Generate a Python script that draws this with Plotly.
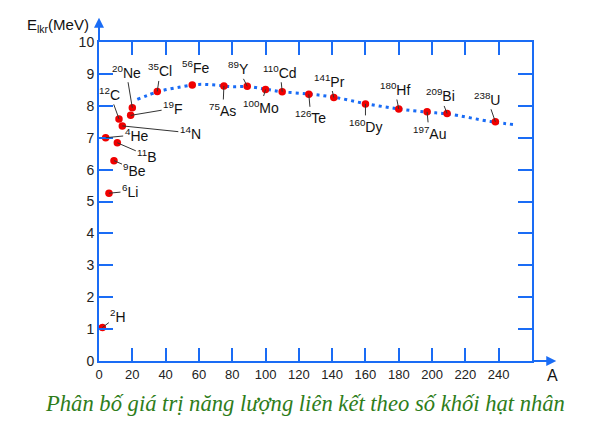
import plotly.graph_objects as go

# mass number A, binding energy per nucleon (MeV)
elements = ["H", "He", "Li", "Be", "B", "C", "N", "F", "Ne", "Cl", "Fe", "As", "Y",
            "Mo", "Cd", "Te", "Pr", "Dy", "Hf", "Au", "Bi", "U"]
mass_numbers = [2, 4, 6, 9, 11, 12, 14, 19, 20, 35, 56, 75, 89,
                100, 110, 126, 141, 160, 180, 197, 209, 238]
energies = [1.05, 7.0, 5.26, 6.28, 6.84, 7.59, 7.37, 7.70, 7.94, 8.45, 8.65, 8.62, 8.61,
            8.51, 8.44, 8.36, 8.26, 8.06, 7.90, 7.81, 7.76, 7.50]

# dotted trend curve
curve_a = [23, 36, 50, 60, 70, 80, 90, 100, 110, 126, 141, 160, 180, 197, 209, 236, 251]
curve_e = [8.2, 8.45, 8.6, 8.67, 8.65, 8.6, 8.6, 8.52, 8.44, 8.37, 8.27, 8.07, 7.9, 7.8, 7.75, 7.5, 7.4]

x_ticks = list(range(0, 241, 20))
y_ticks = list(range(0, 11))

# label offsets (pixels) from each dot to its text
label_dx = [16, 31, 21, 21, 30, -9, 68, 42, -6, 3, 3, -1, -9, -5, -2, 2, -4, 0, -4, 2, -7, -8]
label_dy = [-12, -3, -2, 9, 13, -25, 7, -7, -36, -21, -18, 24, -18, 17, -20, 23, -17, 22, -20, 21, -18, -23]

BLUE = "#1a6cf5"
RED = "#f00000"
FONT = "Liberation Sans, Arial, sans-serif"

fig = go.Figure()

fig.add_trace(
    go.Scatter(
        x=curve_a,
        y=curve_e,
        mode="lines",
        line={"color": BLUE, "width": 3, "dash": "3px,4px", "shape": "spline"},
        hoverinfo="skip",
    )
)
fig.add_trace(
    go.Scatter(
        x=mass_numbers,
        y=energies,
        mode="markers",
        marker={"color": RED, "size": 7.5},
        text=elements,
    )
)

for el, a, e, dx, dy in zip(elements, mass_numbers, energies, label_dx, label_dy):
    fig.add_annotation(
        x=a,
        y=e,
        text=f"<sup>{a}</sup>{el}",
        showarrow=el != "Fe",
        ax=dx,
        ay=dy,
        xshift=0 if el != "Fe" else dx,
        yshift=0 if el != "Fe" else -dy,
        arrowhead=0,
        arrowwidth=1,
        arrowcolor="#333333",
        font={"family": FONT, "size": 14, "color": "#111111"},
    )

# axis arrows (paper coords so they can sit outside the plot area)
fig.add_annotation(xref="paper", yref="paper", x=0, y=1.076, ax=0, ay=24, text="",
                   showarrow=True, arrowhead=2, arrowsize=1, arrowwidth=2, arrowcolor=BLUE)
fig.add_annotation(xref="paper", yref="paper", x=1.056, y=0, ax=-24, ay=0, text="",
                   showarrow=True, arrowhead=2, arrowsize=1, arrowwidth=2, arrowcolor=BLUE)

fig.add_annotation(xref="paper", yref="paper", x=-0.018, y=1.053, xanchor="right", yanchor="middle",
                   showarrow=False, text="E<sub>lkr</sub>(MeV)",
                   font={"family": FONT, "size": 15, "color": "#111111"})
fig.add_annotation(xref="paper", yref="paper", x=1.047, y=-0.046, xanchor="center", yanchor="middle",
                   showarrow=False, text="A",
                   font={"family": FONT, "size": 16, "color": "#111111"})
fig.add_annotation(xref="paper", yref="paper", x=0.476, y=-0.134, xanchor="center", yanchor="middle",
                   showarrow=False,
                   text="<i>Phân bố giá trị năng lượng liên kết theo số khối hạt nhân</i>",
                   font={"family": "Liberation Serif, Times New Roman, serif", "size": 22.6, "color": "#2e7d1a"})

fig.update_xaxes(
    range=[0, 260],
    tickvals=x_ticks,
    ticks="inside",
    ticklen=13,
    tickwidth=2,
    tickcolor=BLUE,
    showline=True,
    linecolor=BLUE,
    linewidth=2,
    mirror="allticks",
    showgrid=False,
    zeroline=False,
    tickfont={"family": FONT, "size": 13, "color": "#222222"},
)
fig.update_yaxes(
    range=[0, 10],
    tickvals=y_ticks,
    ticks="inside",
    ticklen=14,
    tickwidth=2,
    tickcolor=BLUE,
    showline=True,
    linecolor=BLUE,
    linewidth=2,
    mirror="allticks",
    showgrid=False,
    zeroline=False,
    tickfont={"family": FONT, "size": 14, "color": "#222222"},
)

fig.update_layout(
    width=578,
    height=411,
    showlegend=False,
    plot_bgcolor="white",
    paper_bgcolor="white",
    margin={"l": 91, "r": 54, "t": 34, "b": 58},
)

fig.write_html("out.html")
